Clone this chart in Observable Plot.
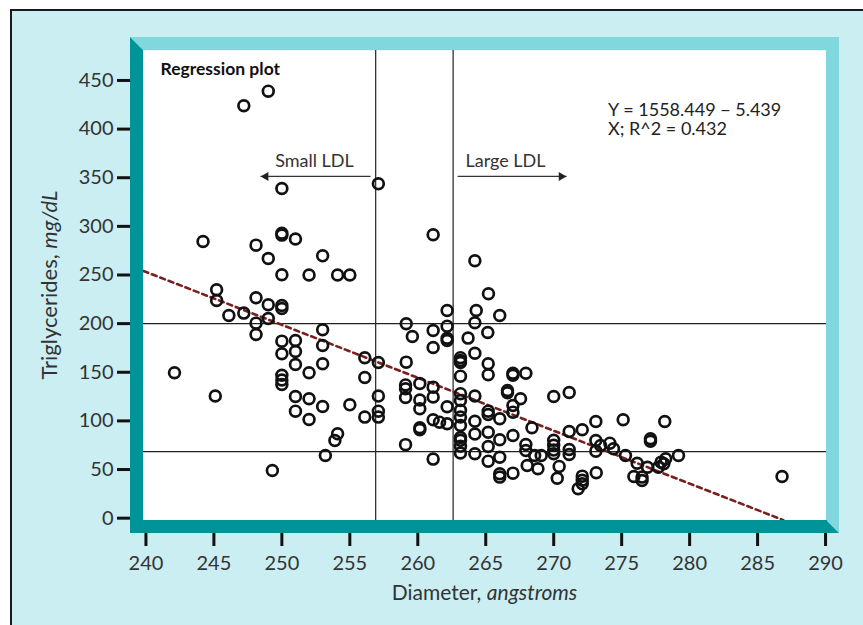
<!DOCTYPE html>
<html><head><meta charset="utf-8">
<script src="https://cdn.jsdelivr.net/npm/d3@7"></script>
<script src="https://cdn.jsdelivr.net/npm/@observablehq/plot@0.6"></script>
<style>
html,body{margin:0;padding:0;background:#fff;}
#wrap{position:relative;width:863px;height:625px;overflow:hidden;}
#bg{position:absolute;left:10px;top:9px;right:-5px;bottom:-5px;background:#cbeef3;border-top:2.5px solid #1a1a1a;border-left:2px solid #1a1a1a;}
#chart{position:absolute;left:0;top:0;}
</style></head><body>
<div id="wrap"><div id="bg"></div><div id="chart"></div></div>
<script>
// Data (diameter in angstroms, triglycerides in mg/dL)
const diameter = [
242.1,244.2,245.2,245.2,245.1,246.1,247.2,247.2,248.1,248.1,248.1,248.1,249.0,249.0,249.0,249.0,249.3,
250.0,250.0,250.0,250.0,250.0,250.0,250.0,250.0,250.0,250.0,250.0,
251.0,251.0,251.0,251.0,251.0,251.0,252.0,252.0,252.0,252.0,
253.0,253.0,253.0,253.0,253.0,253.2,253.9,254.1,254.1,255.0,255.0,256.1,256.1,256.1,
257.1,257.1,257.1,257.1,257.1,
259.15,259.6,259.15,259.1,259.1,259.1,259.1,260.15,260.15,260.15,260.15,260.15,
261.13,261.13,261.13,261.13,261.13,261.13,261.6,261.13,
262.16,262.16,262.16,262.16,262.16,262.16,
263.14,263.14,263.14,263.14,263.14,263.14,263.14,263.14,263.14,263.14,263.14,263.14,263.14,263.7,
264.2,264.3,264.2,264.2,264.2,264.2,264.2,264.2,
265.2,265.15,265.18,265.18,265.18,265.18,265.18,265.18,265.18,
266.03,266.03,266.03,266.03,266.03,266.03,266.6,266.6,
267.0,267.0,267.0,267.0,267.0,267.0,267.56,267.95,267.95,267.95,268.4,268.05,268.6,268.84,269.08,
270.0,270.0,270.0,270.0,270.0,270.4,270.26,271.14,271.14,271.14,271.14,271.8,
272.1,272.1,272.1,272.1,273.1,273.1,273.45,273.1,273.13,274.13,274.4,
275.11,275.28,275.9,276.14,276.5,276.5,276.9,277.12,277.12,277.7,277.9,278.1,278.24,278.17,279.18,286.8
];
const triglycerides = [
149.5,284.5,234.8,223.8,125.6,208.4,210.8,424,280.7,226.6,200.5,188.9,439,267,219.4,205.3,49,
339,293,291,250.2,218.7,215.5,182,169,147,142,137.5,
287,182.7,171.4,158,125.1,110,250,149.5,122.7,101.5,
269.7,193.7,177.6,158.7,114.8,64.5,79.9,86.8,250,250,116.5,164.9,144.6,103.9,
343.8,160,125.5,110,103.9,
199.8,186.8,160.4,137,133,124,75.6,138.5,121.5,112.5,93,91,
291.3,193,175.5,134.7,124.5,101.2,98.7,60.7,
213.5,197.4,185,182.7,114.5,97,
165,162,160,146,128,121,111,104,95.3,83,80,74,67,185.1,
264.6,213.5,200.9,169.6,125.5,99.7,86.5,66.2,
230.7,190.9,158.7,147.4,110,106.6,88.4,73.7,58.6,
208.4,102.2,80.6,62.7,45.6,42.2,131.3,129,
149,147,115.9,109,85,46.3,122.7,149,75.8,69.6,92.9,54.2,64.5,50.8,64.5,
125.1,80,75,70,66.2,53.2,41,129.2,89.1,70.6,65.5,30.2,
90.9,43.2,39,35.4,99.4,79.9,74.7,68.9,46.7,77.1,71.3,
101.2,64.5,42.9,56.5,42.2,38.8,52.4,81.6,79,52.4,57.6,55.9,61,99.4,64.5,42.9
];
const xTicks = [240,245,250,255,260,265,270,275,280,285,290];
const yTicks = [0,50,100,150,200,250,300,350,400,450];
const cutoffDiameters = [256.9, 262.6];
const cutoffTrig = [200, 68.5];
const regDiameter = [239.82, 286.9];
const regTrig = [254.1, -2.0];
const equationLines = ["Y = 1558.449 \u2212 5.439", "X; R^2 = 0.432"];
const equationX = [274.0, 274.0];
const equationY = [419.9, 399.4];
const ldlLabels = ["Small LDL", "Large LDL"];
const ldlLabelX = [252.4, 266.45];
const ldlLabelY = [366.8, 366.8];
const arrowFrom = [256.52, 262.93];
const arrowTo = [248.43, 270.95];
const arrowHeadX = [248.82, 270.56];
const arrowHeadRotate = [-90, 90];
const arrowY = [351.3, 351.3];

const points = diameter.map((d, i) => ({d, t: triglycerides[i]}));
const reg = regDiameter.map((d, i) => ({d, t: regTrig[i]}));
const arrows = arrowFrom.map((a, i) => ({x1: a, x2: arrowTo[i], hx: arrowHeadX[i], rot: arrowHeadRotate[i], y: arrowY[i]}));

const bevel = (index, scales, values, dim) => {
  const L = dim.marginLeft, R = dim.width - dim.marginRight, T = dim.marginTop, B = dim.height - dim.marginBottom, k = 13;
  const g = d3.create("svg:g");
  g.append("polygon").attr("points", [[L-k,T-k],[R+k,T-k],[R+k,B+k],[R,B],[R,T],[L,T]].join(" ")).attr("fill", "#80d8de");
  g.append("polygon").attr("points", [[L-k,T-k],[L,T],[L,B],[R,B],[R+k,B+k],[L-k,B+k]].join(" ")).attr("fill", "#009498");
  return g.node();
};

const plot = Plot.plot({
  width: 863, height: 625,
  marginLeft: 143, marginRight: 37, marginTop: 50, marginBottom: 105,
  style: {background: "transparent", fontFamily: "Lato, sans-serif", overflow: "visible"},
  x: {domain: [239.82, 290.07]},
  y: {domain: [-2.4, 480.8]},
  marks: [
    Plot.frame({fill: "white", stroke: "none"}),
    Plot.ruleX(cutoffDiameters, {stroke: "#333", strokeWidth: 1.3}),
    Plot.ruleY(cutoffTrig, {stroke: "#222", strokeWidth: 1.3}),
    Plot.line(reg, {x: "d", y: "t", stroke: "#7a1f1f", strokeWidth: 2.6, strokeDasharray: "5,4"}),
    Plot.dot(points, {x: "d", y: "t", r: 5.4, stroke: "#111", strokeWidth: 2.7, fill: "none"}),
    Plot.text(["Regression plot"], {x: [241.07], y: [461.3], textAnchor: "start", fontSize: 17.5, fontWeight: "bold", fill: "#111"}),
    Plot.text(equationLines, {x: equationX, y: equationY, textAnchor: "start", fontSize: 18, fill: "#222"}),
    Plot.text(ldlLabels, {x: ldlLabelX, y: ldlLabelY, textAnchor: "middle", fontSize: 18, fill: "#333"}),
    Plot.link(arrows, {x1: "x1", x2: "x2", y1: "y", y2: "y", stroke: "#333", strokeWidth: 1.3}),
    Plot.dot(arrows, {x: "hx", y: "y", symbol: "triangle", rotate: "rot", r: 3.3, fill: "#222", stroke: "none"}),
    Plot.axisX({ticks: xTicks, tickSize: 26, tickPadding: 9, strokeWidth: 3, stroke: "#111", fill: "#333", fontSize: 20, label: null}),
    Plot.axisY({ticks: yTicks, tickSize: 26, tickPadding: 4, strokeWidth: 3, stroke: "#111", fill: "#333", fontSize: 20, label: null}),
    bevel
  ]
});
document.getElementById("chart").append(plot);

const svg = d3.select(plot);
const xr = plot.scale("x").range, yr = plot.scale("y").range;
const xl = svg.append("text").attr("x", (xr[0] + xr[1]) / 2).attr("y", 593).attr("dy", "0.32em")
  .attr("text-anchor", "middle").attr("font-size", 21).attr("fill", "#333").attr("font-family", "Lato, sans-serif");
xl.append("tspan").text("Diameter, ");
xl.append("tspan").attr("font-style", "italic").text("angstroms");
const yl = svg.append("text").attr("transform", `translate(50,${(yr[0] + yr[1]) / 2}) rotate(-90)`).attr("dy", "0.32em")
  .attr("text-anchor", "middle").attr("font-size", 22).attr("fill", "#333").attr("font-family", "Lato, sans-serif");
yl.append("tspan").text("Triglycerides, ");
yl.append("tspan").attr("font-style", "italic").text("mg/dL");
</script>
</body></html>
